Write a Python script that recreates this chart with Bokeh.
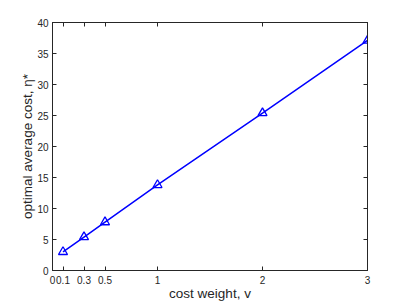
from bokeh.plotting import figure
from bokeh.models import LinearAxis, FixedTicker, Range1d
from bokeh.embed import file_html
from bokeh.resources import INLINE

# data
cost_weight = [0.1, 0.3, 0.5, 1, 2, 3]
optimal_cost = [3.0, 5.4, 7.8, 13.8, 25.4, 37.1]
x_ticks = [0, 0.1, 0.3, 0.5, 1, 2, 3]
x_tick_labels = {0: "0", 0.1: "0.1", 0.3: "0.3", 0.5: "0.5", 1: "1", 2: "2", 3: "3"}
y_ticks = [0, 5, 10, 15, 20, 25, 30, 35, 40]

FONT = "Liberation Sans"
AX = "#262626"

p = figure(width=398, height=304, output_backend="svg", toolbar_location=None,
           x_range=Range1d(0, 3), y_range=Range1d(0, 40),
           min_border_left=52, min_border_right=31, min_border_top=22, min_border_bottom=34,
           background_fill_color="white", border_fill_color="white")
p.outline_line_color = AX
p.outline_line_width = 1
p.xgrid.visible = False
p.ygrid.visible = False

p.line(cost_weight, optimal_cost, line_color="#0000ff", line_width=1.5)
p.scatter(cost_weight, optimal_cost, marker="triangle", size=9, fill_color=None,
          line_color="#0000ff", line_width=1.3)

def style(ax):
    ax.axis_line_color = AX
    ax.major_tick_line_color = AX
    ax.major_tick_in = 4
    ax.major_tick_out = 0
    ax.minor_tick_line_color = AX
    ax.minor_tick_in = 4
    ax.minor_tick_out = 0
    ax.major_label_text_font = FONT
    ax.major_label_text_color = AX
    ax.major_label_text_font_size = "10px"
    ax.axis_label_text_font = FONT
    ax.axis_label_text_font_style = "normal"
    ax.axis_label_text_color = AX
    ax.axis_label_text_font_size = "13.5px"

xa = p.xaxis[0]
xa.ticker = FixedTicker(ticks=x_ticks)
xa.major_label_overrides = x_tick_labels
xa.axis_label = "cost weight, v"
style(xa)
xa.major_label_standoff = 5
xa.axis_label_standoff = -1

ya = p.yaxis[0]
ya.ticker = FixedTicker(ticks=y_ticks)
ya.axis_label = "optimal average cost, η*"
style(ya)
ya.major_label_standoff = 4
ya.axis_label_standoff = -1

# mirrored tick marks on top and right (no labels)
top = LinearAxis(ticker=FixedTicker(ticks=[], minor_ticks=x_ticks))
style(top)
p.add_layout(top, "above")
right = LinearAxis(ticker=FixedTicker(ticks=[], minor_ticks=y_ticks))
style(right)
p.add_layout(right, "right")

html = file_html(p, INLINE)
html = html.replace("</head>", "<style>html,body{overflow:hidden}</style></head>", 1)
open("out.html", "w").write(html)
